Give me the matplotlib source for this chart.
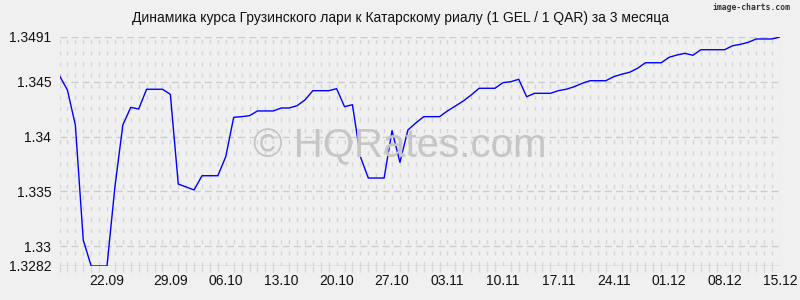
import matplotlib
matplotlib.use("Agg")
import matplotlib.pyplot as plt
import numpy as np

# курс GEL/QAR по дням, читано с картинки
rates = [
    1.34557, 1.34426, 1.34107, 1.33057, 1.3282, 1.3282, 1.3282, 1.33544,
    1.34107, 1.34268, 1.34253, 1.34433, 1.34433, 1.34433, 1.34387, 1.33568,
    1.33541, 1.33514, 1.33644, 1.33644, 1.33644, 1.33818, 1.34177, 1.34183,
    1.34192, 1.34235, 1.34235, 1.34235, 1.34262, 1.34262, 1.34283, 1.34335,
    1.3442, 1.3442, 1.3442, 1.34438, 1.34274, 1.34292, 1.33818, 1.33623,
    1.33623, 1.33623, 1.34055, 1.33766, 1.34061, 1.34125, 1.34183, 1.34183,
    1.34183, 1.34235, 1.3428, 1.34326, 1.34381, 1.34442, 1.34442, 1.34442,
    1.34493, 1.34502, 1.34524, 1.34365, 1.34396, 1.34396, 1.34396, 1.3442,
    1.34433, 1.34456, 1.34487, 1.34511, 1.34511, 1.34511, 1.34548, 1.3457,
    1.34588, 1.34624, 1.34675, 1.34675, 1.34675, 1.34725, 1.34746, 1.34761,
    1.34743, 1.34794, 1.34794, 1.34794, 1.34794, 1.3483, 1.34843, 1.34862,
    1.34892, 1.34892, 1.34892, 1.3491,
]
date_labels = ["22.09", "29.09", "06.10", "13.10", "20.10", "27.10", "03.11",
               "10.11", "17.11", "24.11", "01.12", "08.12", "15.12"]
date_pos = [6, 14, 21, 28, 35, 42, 49, 56, 63, 70, 77, 84, 91]
y_ticks = [1.3282, 1.33, 1.335, 1.34, 1.345, 1.3491]
y_labels = ["1.3282", "1.33", "1.335", "1.34", "1.345", "1.3491"]

plt.rcParams["font.family"] = ["Liberation Sans", "DejaVu Sans"]
bg = "#f0f0f0"
fig = plt.figure(figsize=(8, 3), dpi=100, facecolor=bg)
ax = fig.add_axes([59.5 / 800, 1 - 266 / 300, (780 - 59.5) / 800, (266 - 37) / 300])
ax.set_facecolor(bg)

x = np.arange(len(rates))
ax.plot(x, rates, color="#0000ff", lw=1.0, zorder=4)

ax.set_xlim(0, len(rates) - 1)
ax.set_ylim(y_ticks[0], y_ticks[-1])
ax.set_yticks(y_ticks)
ax.set_yticklabels(y_labels, fontsize=10, color="#111111")
ax.set_xticks(date_pos)
ax.set_xticklabels(date_labels, fontsize=10, color="#111111")
ax.set_xticks(x, minor=True)

ax.tick_params(axis="both", which="major", length=0, pad=6)
ax.tick_params(axis="x", which="minor", length=4, width=1, color="#d8d8d8", direction="out")

for xi in x:
    ax.axvline(xi, color="#d6d6d6", lw=1, ls=(0, (3, 5)), zorder=3)
for yv in y_ticks:
    ax.axhline(yv, color="#cccccc", lw=1, ls=(0, (5, 3)), zorder=3)
ax.axhline(y_ticks[0], color="#c4c4c4", lw=1, zorder=3)

for s in ax.spines.values():
    s.set_visible(False)

fig.text(0.5, 1 - 18 / 300, "Динамика курса Грузинского лари к Катарскому риалу (1 GEL / 1 QAR) за 3 месяца",
         ha="center", va="center", fontsize=10, color="#111111")
fig.text(790 / 800, 1 - 8 / 300, "image-charts.com", ha="right", va="center",
         fontsize=5.8, weight="bold", color="#333333", family="DejaVu Sans Mono")
fig.text(0.5, 1 - 146 / 300, "© HQRates.com", ha="center", va="center",
         fontsize=29, color="#c6c6c6", zorder=2)

fig.savefig("out.png", dpi=100, facecolor=bg)
